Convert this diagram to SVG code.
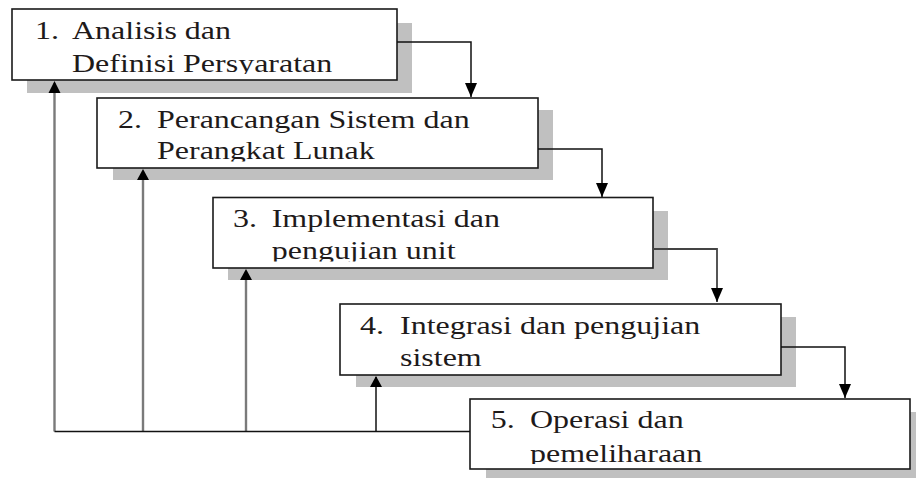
<svg xmlns="http://www.w3.org/2000/svg" width="916" height="478" viewBox="0 0 916 478">
<style>
.bg{fill:#ffffff}
.sh{fill:#c0c0c0}
.box{fill:#ffffff;stroke:#1a1a1a;stroke-width:1.6}
.t{font-family:'Liberation Serif','Times New Roman',Times,'DejaVu Serif',serif;font-size:25px;fill:#1e1a1a}
.c{fill:none;stroke:#111;stroke-width:1.5}
.g{fill:none;stroke:#7a7a7a;stroke-width:2.4}
</style>
<defs>
<marker id="ah" markerUnits="userSpaceOnUse" markerWidth="14" markerHeight="12" viewBox="0 0 14 12" refX="14" refY="6" orient="auto">
<path d="M0,0 L14,6 L0,12 Z" fill="#000"/>
</marker>
<clipPath id="k1"><rect x="12" y="9" width="385" height="65"/></clipPath>
<clipPath id="k2"><rect x="97" y="98" width="441" height="63.5"/></clipPath>
<clipPath id="k3"><rect x="213" y="197.5" width="440" height="64"/></clipPath>
<clipPath id="k4"><rect x="340" y="304" width="441" height="64.5"/></clipPath>
<clipPath id="k5"><rect x="470" y="399" width="440" height="65"/></clipPath>
</defs>
<rect class="bg" x="0" y="0" width="916" height="478"/>

<g id="node1">
<rect class="sh" x="27" y="23" width="385" height="70"/>
<rect class="box" x="12" y="9" width="385" height="71"/>
<g clip-path="url(#k1)">
<text class="t" font-family="Liberation Serif, DejaVu Serif, serif" transform="translate(35,39.3) scale(1.28,1)">1.</text>
<text class="t" font-family="Liberation Serif, DejaVu Serif, serif" transform="translate(72,39.3) scale(1.28,1)">Analisis dan</text>
<text class="t" font-family="Liberation Serif, DejaVu Serif, serif" transform="translate(72,71.7) scale(1.28,1)">Definisi Persyaratan</text>
</g>
</g>

<g id="node2">
<rect class="sh" x="113" y="110" width="440" height="70"/>
<rect class="box" x="97" y="98" width="441" height="70"/>
<g clip-path="url(#k2)">
<text class="t" font-family="Liberation Serif, DejaVu Serif, serif" transform="translate(118,128) scale(1.28,1)">2.</text>
<text class="t" font-family="Liberation Serif, DejaVu Serif, serif" transform="translate(157,128) scale(1.28,1)">Perancangan Sistem dan</text>
<text class="t" font-family="Liberation Serif, DejaVu Serif, serif" transform="translate(157,159.3) scale(1.28,1)">Perangkat Lunak</text>
</g>
</g>

<g id="node3">
<rect class="sh" x="228" y="211" width="440" height="69"/>
<rect class="box" x="213" y="197.5" width="440" height="70.5"/>
<g clip-path="url(#k3)">
<text class="t" font-family="Liberation Serif, DejaVu Serif, serif" transform="translate(233,226.7) scale(1.28,1)">3.</text>
<text class="t" font-family="Liberation Serif, DejaVu Serif, serif" transform="translate(271.7,226.7) scale(1.28,1)">Implementasi dan</text>
<text class="t" font-family="Liberation Serif, DejaVu Serif, serif" transform="translate(271.7,259) scale(1.28,1)">pengujian unit</text>
</g>
</g>

<g id="node4">
<rect class="sh" x="356" y="317" width="440" height="70"/>
<rect class="box" x="340" y="304" width="441" height="71"/>
<g clip-path="url(#k4)">
<text class="t" font-family="Liberation Serif, DejaVu Serif, serif" transform="translate(360,334) scale(1.28,1)">4.</text>
<text class="t" font-family="Liberation Serif, DejaVu Serif, serif" transform="translate(400,334) scale(1.28,1)">Integrasi dan pengujian</text>
<text class="t" font-family="Liberation Serif, DejaVu Serif, serif" transform="translate(400,366) scale(1.28,1)">sistem</text>
</g>
</g>

<g id="node5">
<rect class="sh" x="486" y="412" width="440" height="70"/>
<rect class="box" x="470" y="399" width="440" height="70"/>
<g clip-path="url(#k5)">
<text class="t" font-family="Liberation Serif, DejaVu Serif, serif" transform="translate(490.7,428) scale(1.28,1)">5.</text>
<text class="t" font-family="Liberation Serif, DejaVu Serif, serif" transform="translate(530,428) scale(1.28,1)">Operasi dan</text>
<text class="t" font-family="Liberation Serif, DejaVu Serif, serif" transform="translate(530,461.7) scale(1.28,1)">pemeliharaan</text>
</g>
</g>

<g id="connectors">
<path class="g" d="M54.5,431.5 V83"/>
<path class="g" d="M143,431.5 V171"/>
<path class="g" d="M246,431.5 V271"/>
<path class="c" d="M470,431.5 H54.5"/>
<path class="c" d="M376,431.5 V377"/>
<path class="c" d="M397,42 H471 V97" marker-end="url(#ah)"/>
<path class="c" d="M538,149 H602 V197" marker-end="url(#ah)"/>
<path class="c" d="M653,249 H717 V302" style="stroke:#444;stroke-width:1.8" marker-end="url(#ah)"/>
<path class="c" d="M781,347 H845 V398" marker-end="url(#ah)"/>
<path d="M48.5,93 L54.5,81 L60.5,93 Z" fill="#000"/>
<path d="M137,180 L143,169 L149,180 Z" fill="#000"/>
<path d="M240,280 L246,269 L252,280 Z" fill="#000"/>
<path d="M370,387 L376,376 L382,387 Z" fill="#000"/>
</g>
</svg>
